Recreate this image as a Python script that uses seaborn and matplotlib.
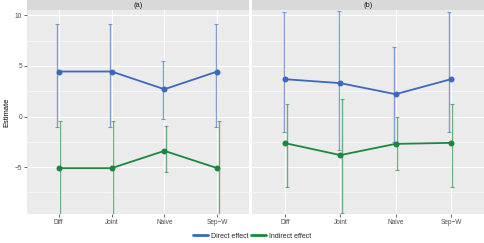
import numpy as np
import pandas as pd
import matplotlib
matplotlib.use("Agg")
import matplotlib.pyplot as plt
import seaborn as sns
from matplotlib.lines import Line2D

methods = ["Diff", "Joint", "Naive", "Sep\u2212W"]
panels = ["(a)", "(b)"]

# Panel (a)
direct_a = [4.45, 4.45, 2.70, 4.45]
direct_a_lo = [-1.05, -1.05, -0.26, -1.05]
direct_a_hi = [9.15, 9.15, 5.50, 9.15]
indirect_a = [-5.10, -5.10, -3.39, -5.10]
indirect_a_lo = [-9.70, -9.70, -5.49, -9.70]
indirect_a_hi = [-0.42, -0.42, -0.95, -0.42]

# Panel (b)
direct_b = [3.69, 3.30, 2.21, 3.69]
direct_b_lo = [-1.54, -3.29, -2.47, -1.54]
direct_b_hi = [10.33, 10.46, 6.90, 10.33]
indirect_b = [-2.63, -3.81, -2.70, -2.60]
indirect_b_lo = [-7.00, -9.57, -5.30, -7.00]
indirect_b_hi = [1.28, 1.72, -0.06, 1.28]

series = ["Direct effect", "Indirect effect"]
colors = {"Direct effect": "#3a69c0", "Indirect effect": "#19883c"}

rows = []
data = {
    "(a)": {"Direct effect": (direct_a, direct_a_lo, direct_a_hi),
            "Indirect effect": (indirect_a, indirect_a_lo, indirect_a_hi)},
    "(b)": {"Direct effect": (direct_b, direct_b_lo, direct_b_hi),
            "Indirect effect": (indirect_b, indirect_b_lo, indirect_b_hi)},
}
for p in panels:
    for s in series:
        est, lo, hi = data[p][s]
        for i, m in enumerate(methods):
            rows.append(dict(panel=p, effect=s, method=m, pos=i,
                             est=est[i], lo=lo[i], hi=hi[i]))
df = pd.DataFrame(rows)

sns.set_theme(style="darkgrid")
plt.rcParams["font.family"] = ["Liberation Sans", "DejaVu Sans"]

fig = plt.figure(figsize=(4.85, 2.43), dpi=100)
W, H = 485, 243
boxes = {"(a)": (27, 249), "(b)": (252, 484)}
ptop, pbot = 10, 214
ylim = (-9.63, 10.53)
dodge = {"Direct effect": -0.025, "Indirect effect": 0.025}

for k, p in enumerate(panels):
    x0, x1 = boxes[p]
    ax = fig.add_axes([x0 / W, 1 - pbot / H, (x1 - x0) / W, (pbot - ptop) / H])
    ax.set_facecolor("#ebebeb")
    sub = df[df.panel == p]
    for s in series:
        d = sub[sub.effect == s]
        ax.errorbar(d.pos + dodge[s], d.est, yerr=[d.est - d.lo, d.hi - d.est],
                    fmt="none", ecolor=colors[s], alpha=0.6, elinewidth=1.0,
                    capsize=1.2, capthick=0.8, zorder=2)
    sns.lineplot(data=sub, x="pos", y="est", hue="effect", palette=colors,
                 hue_order=series, marker="o", markersize=4.3, markeredgewidth=0,
                 linewidth=1.3, legend=False, ax=ax, zorder=3)
    ax.set_xlim(-0.6, 3.6)
    ax.set_ylim(*ylim)
    ax.set_xticks(range(len(methods)))
    ax.set_xticklabels(methods)
    ax.set_yticks([-5, 0, 5, 10])
    ax.set_yticks([-7.5, -2.5, 2.5, 7.5], minor=True)
    ax.grid(True, which="major", color="white", linewidth=0.8)
    ax.grid(True, which="minor", axis="y", color="white", linewidth=0.4)
    ax.set_xlabel("")
    ax.set_ylabel("")
    for sp in ax.spines.values():
        sp.set_visible(False)
    ax.tick_params(axis="both", which="major", length=2, width=0.5,
                   color="#333333", labelcolor="#4d4d4d", labelsize=4.7, pad=1.5,
                   bottom=True, left=(k == 0))
    ax.tick_params(axis="both", which="minor", length=0)
    if k == 0:
        ax.set_ylabel("Estimate", fontsize=5.4, color="black", labelpad=3)
        ax.set_yticklabels(["\u22125", "0", "5", "10"])
    else:
        ax.set_yticklabels([])
    # strip
    sax = fig.add_axes([x0 / W, 1 - ptop / H, (x1 - x0) / W, 10 / H])
    sax.set_facecolor("#d9d9d9")
    sax.set_xticks([]); sax.set_yticks([])
    for sp in sax.spines.values():
        sp.set_visible(False)
    sax.text(0.5, 0.45, p, ha="center", va="center", fontsize=5.4, color="#1a1a1a",
             transform=sax.transAxes)

handles = [Line2D([0], [0], color=colors[s], linewidth=2) for s in series]
leg = fig.legend(handles, series, loc="center", bbox_to_anchor=(252 / W, 1 - 236 / H),
                 ncol=2, frameon=False, fontsize=5, handlelength=2.2,
                 handletextpad=0.4, columnspacing=0.4)

fig.savefig("out.png", dpi=100, facecolor="white")
